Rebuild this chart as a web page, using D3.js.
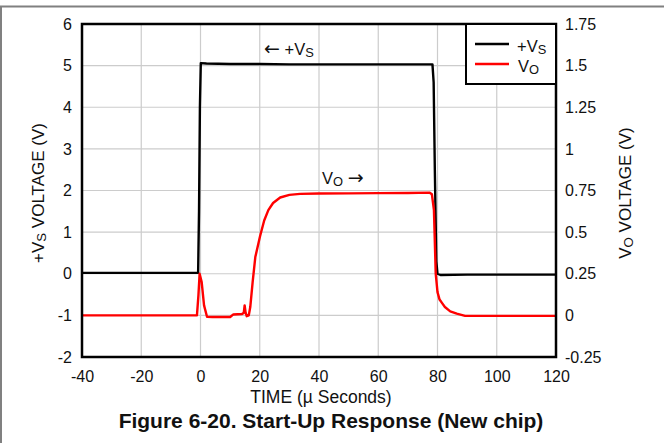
<!DOCTYPE html>
<html>
<head>
<meta charset="utf-8">
<script src="https://cdn.jsdelivr.net/npm/d3@7"></script>
<style>
  html, body { margin: 0; padding: 0; background: #fff; }
  svg text { font-family: "Liberation Sans", Arial, sans-serif; fill: #111; }
  .arrow { font-family: "DejaVu Sans", sans-serif; }
</style>
</head>
<body>
<svg id="chart" width="664" height="443"></svg>
<script>
// Time axis ticks (µs) and voltage ticks for each y axis
const timeTicks = [-40, -20, 0, 20, 40, 60, 80, 100, 120];
const vsTicks = [-2, -1, 0, 1, 2, 3, 4, 5, 6];
const voTicks = [-0.25, 0, 0.25, 0.5, 0.75, 1, 1.25, 1.5, 1.75];

// +VS supply waveform (left axis, V)
const vsTime = [-40, -20, -0.8, -0.5, -0.2, 0.1, 2, 10, 20, 30, 40, 50, 60, 70, 78.3, 78.7, 79.1, 79.6, 80.0, 81, 90, 100, 110, 120];
const vsVolt = [0.02, 0.02, 0.02, 1.5, 4.0, 5.06, 5.05, 5.04, 5.04, 5.03, 5.03, 5.03, 5.03, 5.03, 5.03, 4.6, 2.5, 0.3, 0.0, -0.03, -0.02, -0.02, -0.02, -0.02];

// VO output waveform (right axis, V)
const voTime = [-40, -20, -1.2, -0.7, -0.3, 0.4, 1.2, 2.2, 4, 10, 11, 14, 14.6, 14.9, 15.2, 15.6, 16.3, 16.8, 17.6, 18.5, 20.1, 21.5, 22.9, 24.5, 26.9, 30, 33.6, 40, 50, 60, 70, 77.4, 78.1, 78.8, 79.4, 80, 80.7, 81.5, 82.5, 84.3, 86.5, 89.3, 100, 120];
const voVolt = [0, 0, 0, 0.12, 0.25, 0.2, 0.06, -0.008, -0.01, -0.01, 0.005, 0.008, 0.015, 0.06, 0.02, -0.005, 0.0, 0.05, 0.2, 0.35, 0.475, 0.57, 0.632, 0.675, 0.708, 0.724, 0.73, 0.732, 0.733, 0.734, 0.735, 0.737, 0.728, 0.632, 0.25, 0.14, 0.095, 0.075, 0.05, 0.024, 0.01, -0.003, -0.003, -0.003];

const svg = d3.select("#chart");
const L = 82, R = 556, T = 24, B = 357;

const x = d3.scaleLinear().domain([-40, 120]).range([L, R]);
const yL = d3.scaleLinear().domain([-2, 6]).range([B, T]);
const yR = d3.scaleLinear().domain([-0.25, 1.75]).range([B, T]);

// outer figure frame
svg.append("line").attr("x1", 0).attr("x2", 664).attr("y1", 6.5).attr("y2", 6.5)
  .attr("stroke", "#808080").attr("stroke-width", 2);
svg.append("line").attr("x1", 1).attr("x2", 1).attr("y1", 6).attr("y2", 443)
  .attr("stroke", "#808080").attr("stroke-width", 2);

// grid
const grid = svg.append("g").attr("stroke", "#cccccc").attr("stroke-width", 1.2);
grid.selectAll(".gx").data(timeTicks).join("line")
  .attr("x1", d => x(d)).attr("x2", d => x(d)).attr("y1", T).attr("y2", B);
grid.selectAll(".gy").data(vsTicks).join("line")
  .attr("x1", L).attr("x2", R).attr("y1", d => yL(d)).attr("y2", d => yL(d));

// axes (labels only; frame drawn separately)
const axB = svg.append("g").attr("transform", `translate(0,${B})`)
  .call(d3.axisBottom(x).tickValues(timeTicks).tickSize(0).tickPadding(14).tickFormat(d => d));
const axL = svg.append("g").attr("transform", `translate(${L},0)`)
  .call(d3.axisLeft(yL).tickValues(vsTicks).tickSize(0).tickPadding(10).tickFormat(d => d));
const axR = svg.append("g").attr("transform", `translate(${R},0)`)
  .call(d3.axisRight(yR).tickValues(voTicks).tickSize(0).tickPadding(9).tickFormat(d => String(d)));
[axB, axL, axR].forEach(a => {
  a.select(".domain").remove();
  a.selectAll("text").attr("font-size", 16).attr("fill", "#111")
    .style("font-family", "'Liberation Sans', Arial, sans-serif");
});

// waveforms
const lineVs = d3.line().x(d => x(d[0])).y(d => yL(d[1]));
const lineVo = d3.line().x(d => x(d[0])).y(d => yR(d[1]));
svg.append("path").datum(vsTime.map((t, i) => [t, vsVolt[i]]))
  .attr("d", lineVs).attr("fill", "none").attr("stroke", "#000").attr("stroke-width", 2.4)
  .attr("stroke-linejoin", "round");
svg.append("path").datum(voTime.map((t, i) => [t, voVolt[i]]))
  .attr("d", lineVo).attr("fill", "none").attr("stroke", "#ff0000").attr("stroke-width", 2.4)
  .attr("stroke-linejoin", "round");

// plot frame
svg.append("rect").attr("x", L).attr("y", T).attr("width", R - L).attr("height", B - T)
  .attr("fill", "none").attr("stroke", "#000").attr("stroke-width", 2.5);

// text with a subscript, e.g. +V with S below
function subText(sel, main, sub, after) {
  sel.append("tspan").text(main);
  sel.append("tspan").attr("font-size", "0.78em").attr("dy", 1.5).text(sub);
  if (after) sel.append("tspan").attr("dy", -1.5).text(after);
  return sel;
}

// legend
const lg = svg.append("g");
lg.append("rect").attr("x", 466).attr("y", T).attr("width", R - 466).attr("height", 60)
  .attr("fill", "#fff").attr("stroke", "#000").attr("stroke-width", 2);
lg.append("line").attr("x1", 475).attr("x2", 509).attr("y1", 44).attr("y2", 44)
  .attr("stroke", "#000").attr("stroke-width", 2.4);
lg.append("line").attr("x1", 475).attr("x2", 509).attr("y1", 64).attr("y2", 64)
  .attr("stroke", "#ff0000").attr("stroke-width", 2.4);
subText(lg.append("text").attr("x", 517).attr("y", 52).attr("font-size", 16.5), "+V", "S");
subText(lg.append("text").attr("x", 518).attr("y", 72).attr("font-size", 16.5), "V", "O");

// in-plot annotations
const a1 = svg.append("text").attr("x", 264).attr("y", 55).attr("font-size", 16.5);
a1.append("tspan").attr("class", "arrow").attr("font-size", 19).text("\u2190");
a1.append("tspan").text(" +V");
a1.append("tspan").attr("font-size", "0.78em").attr("dy", 1.5).text("S");
const a2 = subText(svg.append("text").attr("x", 322).attr("y", 184).attr("font-size", 16.5), "V", "O");
a2.append("tspan").attr("dy", -1.5).text(" ");
a2.append("tspan").attr("class", "arrow").attr("font-size", 19).text("\u2192");

// axis titles
subText(svg.append("text").attr("transform", "translate(44,193) rotate(-90)")
  .attr("text-anchor", "middle").attr("font-size", 17), "+V", "S", " VOLTAGE (V)");
subText(svg.append("text").attr("transform", "translate(631,193) rotate(-90)")
  .attr("text-anchor", "middle").attr("font-size", 17), "V", "O", " VOLTAGE (V)");

svg.append("text").attr("x", 321).attr("y", 403).attr("text-anchor", "middle")
  .attr("font-size", 17.5).text("TIME (\u00b5 Seconds)");

svg.append("text").attr("x", 331).attr("y", 428).attr("text-anchor", "middle")
  .attr("font-size", 21).attr("font-weight", "bold").text("Figure 6-20. Start-Up Response (New chip)");
</script>
</body>
</html>
